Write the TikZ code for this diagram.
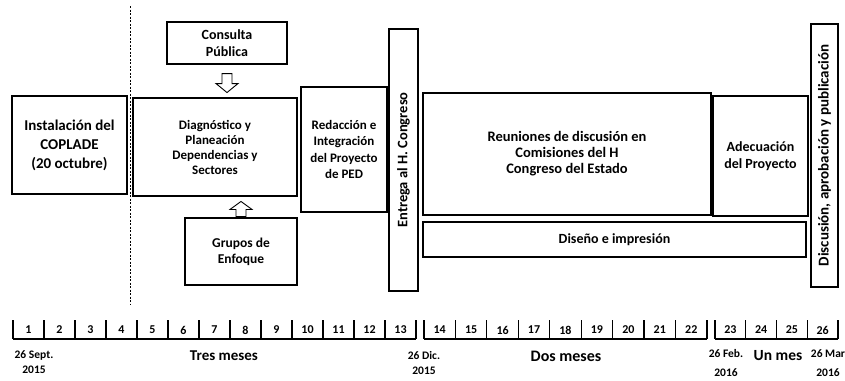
\documentclass[tikz,border=0pt]{standalone}
\usepackage{fontspec}
\setmainfont{Carlito}
\usetikzlibrary{calc}
\begin{document}
\begin{tikzpicture}[x=1pt,y=-1pt,
  box/.style={draw, line width=1.1pt, align=center, inner sep=1pt,
    font=\bfseries\fontsize{14.5}{16}\selectfont},
  blk/.style={draw, line width=0.9pt, line join=miter, fill=white},
  tl/.style={line width=1.2pt},
  num/.style={inner sep=0pt, font=\bfseries\fontsize{12}{12}\selectfont},
  datelbl/.style={inner sep=0pt, align=center, font=\bfseries\fontsize{11.5}{15}\selectfont},
  spanlbl/.style={inner sep=0pt, font=\bfseries\fontsize{15}{16}\selectfont}]
\useasboundingbox (0,0) rectangle (845,380);

% dashed guide line
\draw[line width=0.7pt, dash pattern=on 2pt off 1.5pt] (130,6) -- (130,304);

% boxes
\node[box, minimum width=115pt, minimum height=98pt, font=\bfseries\fontsize{15}{19}\selectfont]
  (inst) at (69.5,145) {Instalación del\\COPLADE\\(20 octubre)};
\node[box, minimum width=164pt, minimum height=98pt, font=\bfseries\fontsize{13}{15}\selectfont]
  (diag) at (215,147) {Diagnóstico y\\Planeación\\Dependencias y\\Sectores};
\node[box, minimum width=120pt, minimum height=42pt, font=\bfseries\fontsize{14}{17}\selectfont]
  (cons) at (227,43) {Consulta\\Pública};
\node[box, minimum width=112pt, minimum height=67pt, font=\bfseries\fontsize{13.5}{16}\selectfont]
  (grup) at (241,251.5) {Grupos de\\Enfoque};
\node[box, minimum width=86pt, minimum height=125pt, font=\bfseries\fontsize{13}{16.5}\selectfont]
  (red) at (344,149.5) {Redacción e\\Integración\\del Proyecto\\de PED};
\node[box, rotate=90, minimum width=262pt, minimum height=29pt, font=\bfseries\fontsize{14.5}{16}\selectfont]
  (entr) at (403.5,160) {Entrega al H. Congreso};
\node[box, minimum width=288pt, minimum height=122pt]
  (reun) at (567,154) {Reuniones de discusión en\\Comisiones del H\\Congreso del Estado};
\node[box, minimum width=95pt, minimum height=120pt, font=\bfseries\fontsize{14}{17}\selectfont]
  (adec) at (760.5,156) {Adecuación\\del Proyecto};
\node[box, minimum width=383pt, minimum height=35pt, font=\bfseries\fontsize{14}{16}\selectfont]
  (dise) at (614.5,239.5) {Diseño e impresión};
\node[box, rotate=90, minimum width=263pt, minimum height=27pt, font=\bfseries\fontsize{15}{16}\selectfont]
  (disc) at (824.5,155.5) {Discusión, aprobación y publicación};

% block arrows
\coordinate (a1) at ($(cons.south)+(0,9)$);
\coordinate (a2) at ($(cons.south)+(0,28)$);
\draw[blk] ($(a1)+(-5,0)$) -- ($(a1)+(5,0)$) -- ($(a2)+(5,-9)$) -- ($(a2)+(11,-9)$)
  -- (a2) -- ($(a2)+(-11,-9)$) -- ($(a2)+(-5,-9)$) -- cycle;
\coordinate (b1) at ($(grup.north)+(0,-1)$);
\coordinate (b2) at ($(grup.north)+(0,-16)$);
\draw[blk] ($(b1)+(-5,0)$) -- ($(b1)+(5,0)$) -- ($(b2)+(5,8)$) -- ($(b2)+(11,8)$)
  -- (b2) -- ($(b2)+(-11,8)$) -- ($(b2)+(-5,8)$) -- cycle;

% timeline
\foreach \k in {0,...,13} \draw[tl] ({13+\k*31},320) -- ({13+\k*31},339);
\draw[tl] (13,339) -- (416,339);
\foreach \i in {1,...,13} \node[num] (c\i) at ({13+(\i-0.5)*31},330) {\i};
\foreach \k in {0,...,9} \draw[tl] ({424+\k*31.44},320) -- ({424+\k*31.44},339);
\draw[tl] (424,339) -- (707,339);
\foreach \i in {14,...,22} \node[num] (c\i) at ({424+(\i-13.5)*31.44},330) {\i};
\foreach \k in {0,...,4} \draw[tl] ({715+\k*30.75},320) -- ({715+\k*30.75},339);
\draw[tl] (715,339) -- (838,339);
\foreach \i in {23,...,26} \node[num] (c\i) at ({715+(\i-22.5)*30.75},330) {\i};

% labels
\node[datelbl] (d1) at (34,362.5) {26 Sept.\\2015};
\node[spanlbl] (s1) at (224,356) {Tres meses};
\node[datelbl] (d2) at (424,362.5) {26 Dic.\\2015};
\node[spanlbl, font=\bfseries\fontsize{16}{16}\selectfont] (s2) at (566,356) {Dos meses};
\node[datelbl, font=\bfseries\fontsize{11.5}{19}\selectfont] (d3) at (726,363) {26 Feb.\\2016};
\node[spanlbl, font=\bfseries\fontsize{15.5}{16}\selectfont] (s3) at (778,356) {Un mes};
\node[datelbl, font=\bfseries\fontsize{11.5}{19}\selectfont] (d4) at (828,363) {26 Mar\\2016};
\end{tikzpicture}
\end{document}
